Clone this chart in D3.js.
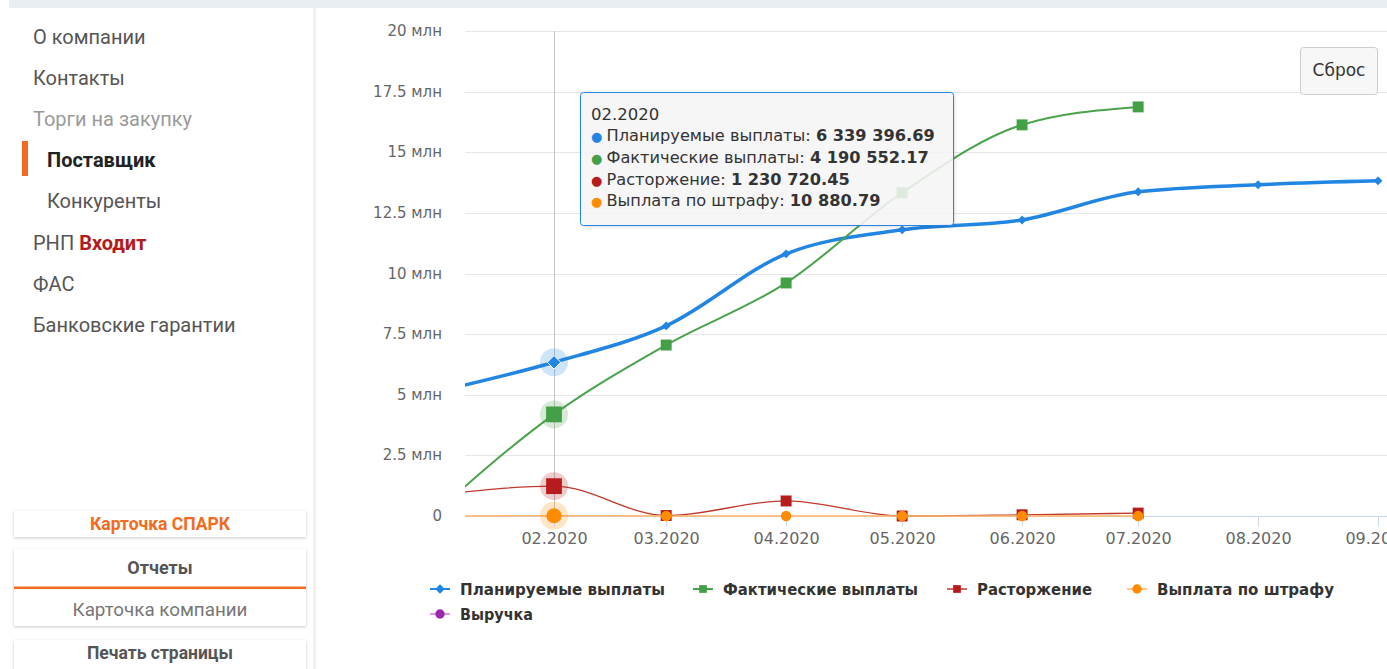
<!DOCTYPE html>
<html><head><meta charset="utf-8">
<script src="https://cdn.jsdelivr.net/npm/d3@7"></script>
<style>
html,body{margin:0;padding:0;background:#fff;overflow:hidden}
svg{display:block}
</style></head><body>
<svg id="c" width="1387" height="669"></svg>
<script>
// ---------- DATA ----------
const months = ["01.2020","02.2020","03.2020","04.2020","05.2020","06.2020","07.2020","08.2020","09.2020"];
const planned     = [5.10e6, 6339396.69, 7.84e6, 10.81e6, 11.80e6, 12.21e6, 13.37e6, 13.66e6, 13.82e6];
const actual      = [0.10e6, 4190552.17, 7.05e6,  9.61e6, 13.33e6, 16.13e6, 16.87e6, null, null];
const termination = [0.85e6, 1230720.45, 0.02e6,  0.62e6,  0.00e6,  0.05e6,  0.12e6, null, null];
const penalty     = [0,      10880.79,   0,       0,       0,       0,       0,      null, null];
const revenue     = [null, null, null, null, null, null, null, null, null];
const seriesNames = ["Планируемые выплаты","Фактические выплаты","Расторжение","Выплата по штрафу","Выручка"];
const yTickValues = [0, 2.5e6, 5e6, 7.5e6, 10e6, 12.5e6, 15e6, 17.5e6, 20e6];
const yTickLabels = ["0","2.5 млн","5 млн","7.5 млн","10 млн","12.5 млн","15 млн","17.5 млн","20 млн"];
const xTickLabels = ["02.2020","03.2020","04.2020","05.2020","06.2020","07.2020","08.2020","09.2020"];
const hoverIndex = 1;
const menuItems = ["О компании","Контакты","Торги на закупку","Поставщик","Конкуренты","РНП","ФАС","Банковские гарантии"];
const menuBadge = "Входит";
const buttons = ["Карточка СПАРК","Отчеты","Карточка компании","Печать страницы"];
const resetLabel = "Сброс";

// ---------- STYLE ----------
const colors = ["#2185e2","#43a047","#b71c1c","#ff8c00","#9c27b0"];
const lineColors = ["#2185e2","#4aa24c","#c0392b","#ffb366","#c77dd6"];
const lineWidths = [3.5, 2, 1.3, 1.5, 2];
const diamond = { draw(ctx, size){ const r = Math.sqrt(size/2); ctx.moveTo(0,-r); ctx.lineTo(r,0); ctx.lineTo(0,r); ctx.lineTo(-r,0); ctx.closePath(); } };
const symbols = [diamond, d3.symbolSquare, d3.symbolSquare, d3.symbolCircle, d3.symbolCircle];
const symSizes = [40, 120, 120, 85, 85];
const symSizesHover = [90, 250, 250, 180, 180];
const chartFont = "'DejaVu Sans', Verdana, sans-serif";
const uiFont = "Roboto, 'Noto Sans', sans-serif";

const svg = d3.select("#c");
const W = 1387, H = 669;
const defs = svg.append("defs");
const sh = defs.append("filter").attr("id","sh").attr("x","-10%").attr("y","-50%").attr("width","120%").attr("height","200%");
sh.append("feDropShadow").attr("dx",0).attr("dy",1).attr("stdDeviation",1.4).attr("flood-color","#000").attr("flood-opacity",0.22);
const sh2 = defs.append("filter").attr("id","sh2").attr("x","-10%").attr("y","-10%").attr("width","130%").attr("height","130%");
sh2.append("feDropShadow").attr("dx",1).attr("dy",1).attr("stdDeviation",1.5).attr("flood-color","#000").attr("flood-opacity",0.15);

// page chrome
svg.append("rect").attr("x",9).attr("y",0).attr("width",W-9).attr("height",8).attr("fill","#e9eef2");
svg.append("rect").attr("x",313).attr("y",8).attr("width",3).attr("height",H-8).attr("fill","#f1f1f1");

// ---------- SIDEBAR ----------
const menuX = [33,33,33,47,47,33,33,33];
const menuColor = ["#555","#555","#9a9a9a","#222","#555","#555","#555","#555"];
const menuWeight = [400,400,400,700,400,400,400,400];
const side = svg.append("g").attr("font-family", uiFont).attr("font-size", 20);
menuItems.forEach((t,i)=>{
  const cy = 37 + i*41.1;
  const tx = side.append("text").attr("x",menuX[i]).attr("y",cy+7)
    .attr("fill",menuColor[i]).attr("font-weight",menuWeight[i]).text(t);
  if (i===5) tx.append("tspan").attr("fill","#b31b1b").attr("font-weight",700).text(" "+menuBadge);
});
side.append("rect").attr("x",22).attr("y",141).attr("width",6).attr("height",35).attr("fill","#f26b21");

const bx = 14, bw = 292;
side.append("rect").attr("x",bx).attr("y",511).attr("width",bw).attr("height",26).attr("fill","#fff").attr("filter","url(#sh)");
side.append("rect").attr("x",bx).attr("y",549).attr("width",bw).attr("height",77).attr("fill","#fff").attr("filter","url(#sh)");
side.append("rect").attr("x",bx).attr("y",640).attr("width",bw).attr("height",30).attr("fill","#fff").attr("filter","url(#sh)");
side.append("rect").attr("x",bx).attr("y",586.5).attr("width",bw).attr("height",2.5).attr("fill","#f26b21");
const btn = (t,y,col,wt,fs)=>side.append("text").attr("x",bx+bw/2).attr("y",y).attr("text-anchor","middle")
   .attr("fill",col).attr("font-weight",wt).attr("font-size",fs).text(t);
btn(buttons[0],530,"#f26b21",700,17.5);
btn(buttons[1],574,"#555",700,18);
btn(buttons[2],615.5,"#777",400,18.8);
btn(buttons[3],659,"#555",700,17.5);

// ---------- CHART ----------
const plot = {left:465, right:1500, top:31, bottom:516};
const parse = d3.timeParse("%m.%Y");
const dates = months.map(parse);
const x = d3.scaleTime().domain([parse("02.2020"), parse("09.2020")]).range([554, 1378]);
const y = d3.scaleLinear().domain([0, 20e6]).range([plot.bottom, plot.top]);

const chart = svg.append("g").attr("font-family", chartFont);
// grid
chart.append("g").selectAll("line").data(yTickValues.filter(v=>v>0)).join("line")
  .attr("x1",plot.left).attr("x2",W).attr("y1",d=>Math.round(y(d))+0.5).attr("y2",d=>Math.round(y(d))+0.5)
  .attr("stroke","#e6e6e6").attr("stroke-width",1);
// y labels
chart.append("g").selectAll("text").data(yTickValues).join("text")
  .attr("x",442).attr("y",d=>y(d)+5).attr("text-anchor","end").attr("font-size",15).attr("fill","#666")
  .text((d,i)=>yTickLabels[i]);
// x axis
const xAxis = d3.axisBottom(x).tickValues(xTickLabels.map(parse)).tickSize(10).tickFormat((d,i)=>xTickLabels[i]);
const xg = chart.append("g").attr("transform",`translate(0,${plot.bottom+0.5})`).call(xAxis);
xg.select(".domain").remove();
xg.selectAll(".tick line").attr("stroke","#ccd6eb");
xg.selectAll(".tick text").attr("font-family",chartFont).attr("font-size",16).attr("fill","#666").attr("dy","0.92em");
chart.append("line").attr("x1",plot.left).attr("x2",W).attr("y1",plot.bottom+0.5).attr("y2",plot.bottom+0.5).attr("stroke","#ccd6eb");

// crosshair
chart.append("line").attr("x1",x(dates[hoverIndex])+0.5).attr("x2",x(dates[hoverIndex])+0.5)
  .attr("y1",plot.top).attr("y2",plot.bottom).attr("stroke","#c4c4c4").attr("stroke-width",1);

// clip
defs.append("clipPath").attr("id","pc").append("rect").attr("x",plot.left).attr("y",plot.top-15)
  .attr("width",W-plot.left).attr("height",plot.bottom-plot.top+30);
const series = [planned, actual, termination, penalty, revenue];
const pg = chart.append("g").attr("clip-path","url(#pc)");
const line = d3.line().defined(d=>d[1]!=null).x(d=>x(d[0])).y(d=>y(d[1])).curve(d3.curveMonotoneX);
series.forEach((s,si)=>{
  const pts = dates.map((d,i)=>[d,s[i]]).filter(p=>p[1]!=null);
  if (!pts.length) return;
  pg.append("path").datum(pts).attr("d",line).attr("fill","none")
    .attr("stroke",lineColors[si]).attr("stroke-width",lineWidths[si]).attr("stroke-linejoin","round");
  pg.append("g").selectAll("path").data(pts.filter((p,i)=>dates.indexOf(p[0])!==hoverIndex)).join("path")
    .attr("transform",p=>`translate(${x(p[0])},${y(p[1])})`)
    .attr("d",d3.symbol(symbols[si], symSizes[si])).attr("fill",colors[si]);
});
// hover halos + markers
series.forEach((s,si)=>{
  const v = s[hoverIndex]; if (v==null) return;
  const cx = x(dates[hoverIndex]), cy = y(v);
  pg.append("circle").attr("cx",cx).attr("cy",cy).attr("r",14).attr("fill",colors[si]).attr("fill-opacity",0.22);
  pg.append("path").attr("transform",`translate(${cx},${cy})`).attr("d",d3.symbol(symbols[si], symSizesHover[si])())
    .attr("fill",colors[si]).attr("stroke","#fff").attr("stroke-width",si===0?1:0);
});

// ---------- LEGEND ----------
const legendPos = [[430,589],[693,589],[947,589],[1127,589],[430,614]];
const legendTextW = [205,195,115,177,73];
const lg = chart.append("g");
seriesNames.forEach((n,i)=>{
  const [lx,ly] = legendPos[i];
  lg.append("line").attr("x1",lx).attr("x2",lx+20).attr("y1",ly).attr("y2",ly)
    .attr("stroke",lineColors[i]).attr("stroke-width",2).attr("opacity", i>=2?0.75:1);
  lg.append("path").attr("transform",`translate(${lx+10},${ly})`).attr("d",d3.symbol(symbols[i], i===0?45:(i<3?60:70))()).attr("fill",colors[i]);
  lg.append("text").attr("x",lx+30).attr("y",ly+5.5).attr("font-size",15).attr("font-weight",700).attr("fill","#333")
    .attr("textLength",legendTextW[i]).attr("lengthAdjust","spacingAndGlyphs").text(n);
});

// ---------- RESET BUTTON ----------
svg.append("rect").attr("x",1300.5).attr("y",47.5).attr("width",77).attr("height",47).attr("rx",3)
  .attr("fill","#f7f7f7").attr("stroke","#cccccc");
svg.append("text").attr("x",1339).attr("y",76).attr("text-anchor","middle").attr("font-family",chartFont)
  .attr("font-size",17).attr("fill","#333").text(resetLabel);

// ---------- TOOLTIP ----------
const fmt = d3.formatLocale({decimal:".", thousands:" ", grouping:[3], currency:["",""]}).format(",.2f");
const tt = svg.append("g").attr("font-family",chartFont);
tt.append("rect").attr("x",580.5).attr("y",92.5).attr("width",373).attr("height",133).attr("rx",3)
  .attr("fill","#f7f7f7").attr("fill-opacity",0.86).attr("stroke","#2185e2").attr("stroke-width",1).attr("filter","url(#sh2)");
tt.append("text").attr("x",591).attr("y",119.5).attr("font-size",16.5).attr("fill","#333").text(months[hoverIndex]);
series.slice(0,4).forEach((s,si)=>{
  const t = tt.append("text").attr("x",591).attr("y",141+si*21.8).attr("font-size",16.2).attr("fill","#333");
  t.append("tspan").attr("fill",colors[si]).attr("font-size",13).text("● ");
  t.append("tspan").text(seriesNames[si]+": ");
  t.append("tspan").attr("font-weight",700).text(fmt(s[hoverIndex]));
});
</script>
</body></html>
